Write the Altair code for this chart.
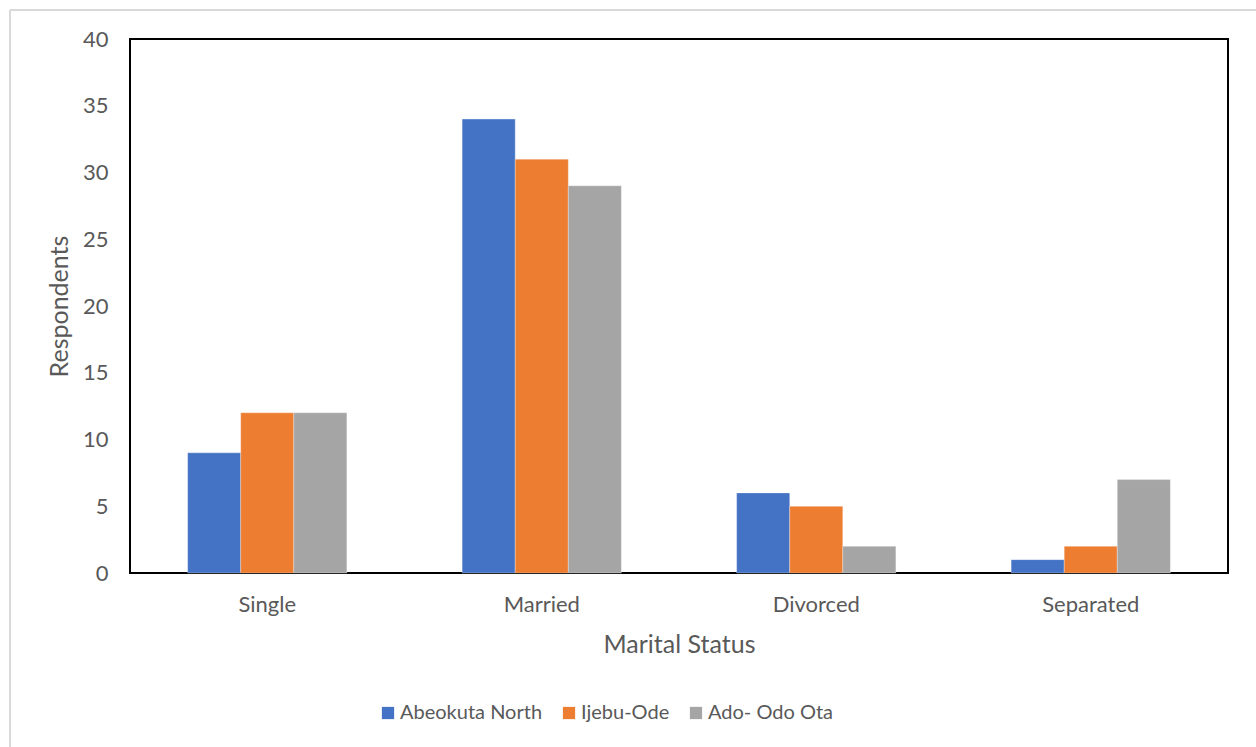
import altair as alt
import pandas as pd

# Respondents by marital status for each local government area
statuses = ["Single", "Married", "Divorced", "Separated"]
regions = ["Abeokuta North", "Ijebu-Ode", "Ado- Odo Ota"]
abeokuta_north = [9, 34, 6, 1]
ijebu_ode = [12, 31, 5, 2]
ado_odo_ota = [12, 29, 2, 7]
colors = ["#4472C4", "#ED7D31", "#A5A5A5"]
y_ticks = [0, 5, 10, 15, 20, 25, 30, 35, 40]

rows = []
for region, values in zip(regions, [abeokuta_north, ijebu_ode, ado_odo_ota]):
    for status, v in zip(statuses, values):
        rows.append({"Status": status, "Region": region, "Respondents": v})
df = pd.DataFrame(rows)

FONT = "Lato"
GREY_TEXT = "#595959"

bars = alt.Chart(df).mark_bar(stroke="white", strokeWidth=0.6, strokeOpacity=0.5).encode(
    x=alt.X(
        "Status:N",
        sort=statuses,
        scale=alt.Scale(paddingInner=0.42, paddingOuter=0.21),
        axis=alt.Axis(
            title="Marital Status",
            labelAngle=0,
            labelFontSize=22,
            labelColor=GREY_TEXT,
            labelPadding=21,
            titleFontSize=25,
            titleFontWeight="normal",
            titleColor=GREY_TEXT,
            titlePadding=17,
            ticks=False,
            domain=False,
        ),
    ),
    xOffset=alt.XOffset("Region:N", sort=regions),
    y=alt.Y(
        "Respondents:Q",
        scale=alt.Scale(domain=[0, 40], nice=False),
        axis=alt.Axis(
            title="Respondents",
            values=y_ticks,
            labelFontSize=22,
            labelColor=GREY_TEXT,
            labelPadding=22,
            titleFontSize=25,
            titleFontWeight="normal",
            titleColor=GREY_TEXT,
            titlePadding=10,
            ticks=False,
            grid=False,
            domain=False,
        ),
    ),
    color=alt.Color(
        "Region:N",
        sort=regions,
        scale=alt.Scale(domain=regions, range=colors),
        legend=alt.Legend(
            title=None,
            orient="none",
            direction="horizontal",
            legendX=248,
            legendY=664,
            symbolType="square",
            symbolSize=150,
            symbolStrokeWidth=0,
            symbolOpacity=1,
            labelFontSize=20,
            labelColor=GREY_TEXT,
            labelOffset=2,
            columnPadding=16,
        ),
    ),
)

# Light outer frame along the top and left edges of the chart area
frame_top = alt.Chart(pd.DataFrame({"k": [0]})).mark_rule(color="#D9D9D9", strokeWidth=2).encode(
    x=alt.value(-120), x2=alt.value(1130), y=alt.value(-29)
)
frame_left = alt.Chart(pd.DataFrame({"k": [0]})).mark_rule(color="#D9D9D9", strokeWidth=2).encode(
    x=alt.value(-120), y=alt.value(-29), y2=alt.value(710)
)

chart = (
    alt.layer(frame_top, frame_left, bars)
    .properties(
        width=1098,
        height=534,
        autosize=alt.AutoSizeParams(type="none"),
        padding={"left": 130, "top": 39, "right": 28, "bottom": 174},
        background="white",
    )
    .configure(font=FONT)
    .configure_view(stroke="black", strokeWidth=2)
)

chart.save("out.html", embed_options={"renderer": "svg", "actions": False})
